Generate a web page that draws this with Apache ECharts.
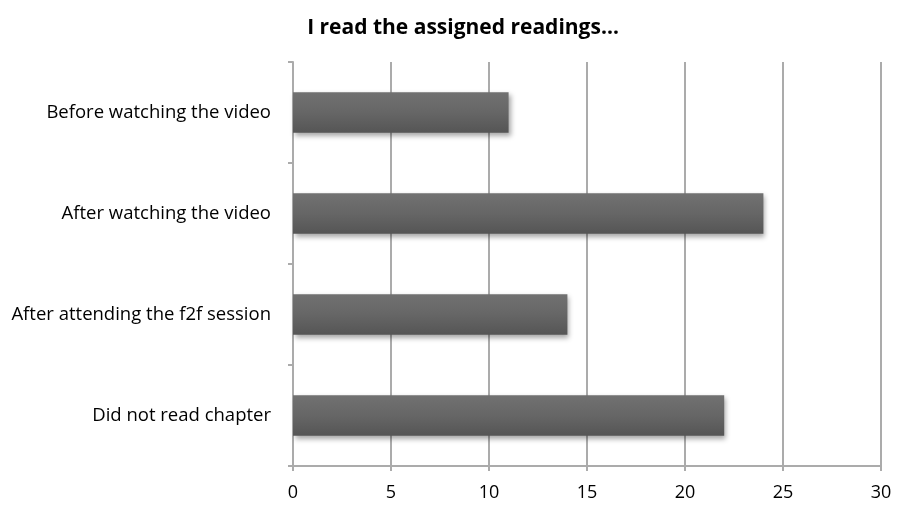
<!DOCTYPE html>
<html>
<head>
<meta charset="utf-8">
<script src="https://cdn.jsdelivr.net/npm/echarts@6/dist/echarts.min.js"></script>
<style>
  html, body { margin: 0; padding: 0; background: #fff; }
  #chart { width: 897px; height: 505px; }
</style>
</head>
<body>
<div id="chart"></div>
<script>
// data (top to bottom)
const categories = ['Before watching the video', 'After watching the video', 'After attending the f2f session', 'Did not read chapter']
const counts = [11, 24, 14, 22]
const xTicks = [0, 5, 10, 15, 20, 25, 30]

const myChart = echarts.init(document.getElementById('chart'))
const fontFamily = '"Open Sans", sans-serif'

let option = {
  animation: false,
  title: {
    text: 'I read the assigned readings…',
    left: 458,
    top: 13,
    textAlign: 'center',
    textStyle: { fontFamily: fontFamily, fontSize: 21, fontWeight: 'bold', color: '#000' },
  },
  grid: { left: 293, right: 16, top: 62, bottom: 39 },
  xAxis: {
    type: 'value',
    min: xTicks[0],
    max: xTicks[xTicks.length - 1],
    interval: 5,
    axisLine: { show: true, lineStyle: { color: '#ababab', width: 2 } },
    axisTick: { show: true, length: 5, lineStyle: { color: '#ababab', width: 2 } },
    splitLine: { show: true, lineStyle: { color: '#ababab', width: 2 } },
    axisLabel: { fontFamily: fontFamily, fontSize: 18, color: '#000', margin: 18 },
  },
  yAxis: {
    type: 'category',
    inverse: true,
    data: categories,
    axisLine: { show: true, lineStyle: { color: '#ababab', width: 2 } },
    axisTick: { show: true, length: 5, lineStyle: { color: '#ababab', width: 2 } },
    axisLabel: { fontFamily: fontFamily, fontSize: 18.5, color: '#000', margin: 22 },
  },
  series: [
    {
      type: 'bar',
      data: counts,
      barCategoryGap: '60%',
      itemStyle: {
        color: new echarts.graphic.LinearGradient(0, 0, 0, 1, [
          { offset: 0, color: '#717171' },
          { offset: 0.5, color: '#666666' },
          { offset: 1, color: '#555555' },
        ]),
        shadowColor: 'rgba(0,0,0,0.35)',
        shadowBlur: 5,
        shadowOffsetX: 2,
        shadowOffsetY: 3,
      },
    },
  ],
}
myChart.setOption(option)
</script>
</body>
</html>
